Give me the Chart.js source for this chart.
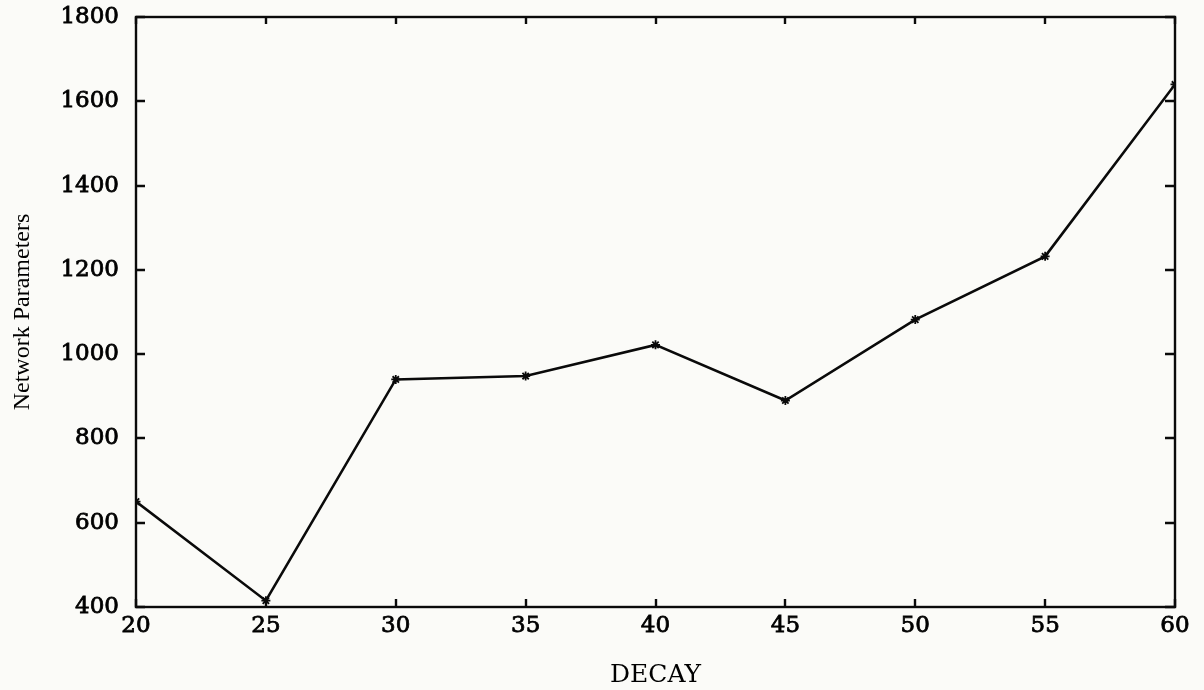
<!DOCTYPE html>
<html>
<head>
<meta charset="utf-8">
<title>Network Parameters vs DECAY</title>
<script src="https://cdn.jsdelivr.net/npm/chart.js@4.4.1/dist/chart.umd.min.js"></script>
<style>
  html, body { margin: 0; padding: 0; background: #fbfbf8; }
  #wrap { width: 1204px; height: 690px; }
</style>
</head>
<body>
<div id="wrap"><canvas id="c" width="1204" height="690"></canvas></div>
<script>
// Decay settings and the resulting network parameter counts
const decay = [20, 25, 30, 35, 40, 45, 50, 55, 60];
const networkParams = [650, 415, 940, 948, 1022, 890, 1082, 1232, 1640];

const xTicks = [20, 25, 30, 35, 40, 45, 50, 55, 60];
const yTicks = [400, 600, 800, 1000, 1200, 1400, 1600, 1800];

const points = decay.map((d, i) => ({ x: d, y: networkParams[i] }));

// Boxed frame with short tick marks pointing into the plot on all four sides
const boxFrame = {
  id: 'boxFrame',
  beforeDraw(chart) {
    const ctx = chart.ctx;
    ctx.save();
    ctx.fillStyle = '#fbfbf8';
    ctx.fillRect(0, 0, chart.width, chart.height);
    ctx.restore();
  },
  afterDatasetsDraw(chart) {
    const { ctx, chartArea: a, scales } = chart;
    ctx.save();
    ctx.strokeStyle = '#0a0a0a';
    ctx.lineWidth = 2.4;
    ctx.strokeRect(a.left, a.top, a.right - a.left, a.bottom - a.top);
    ctx.beginPath();
    xTicks.forEach(v => {
      const px = Math.round(scales.x.getPixelForValue(v));
      ctx.moveTo(px, a.bottom); ctx.lineTo(px, a.bottom - 8);
      ctx.moveTo(px, a.top); ctx.lineTo(px, a.top + 7);
    });
    yTicks.forEach(v => {
      const py = Math.round(scales.y.getPixelForValue(v));
      ctx.moveTo(a.left, py); ctx.lineTo(a.left + 9, py);
      ctx.moveTo(a.right, py); ctx.lineTo(a.right - 10, py);
    });
    ctx.stroke();
    ctx.restore();
  }
};

const tickFont = { family: 'DejaVu Serif', size: 23 };

new Chart(document.getElementById('c'), {
  type: 'line',
  data: {
    datasets: [{
      data: points,
      borderColor: '#0a0a0a',
      borderWidth: 2.6,
      pointStyle: 'star',
      pointRadius: 4.5,
      pointBorderWidth: 1.8,
      pointBorderColor: '#0a0a0a',
      pointBackgroundColor: '#0a0a0a',
      tension: 0,
      fill: false
    }]
  },
  options: {
    responsive: false,
    animation: false,
    layout: { padding: { top: 17, right: 29, left: 0, bottom: 0 } },
    plugins: { legend: { display: false }, tooltip: { enabled: false } },
    scales: {
      x: {
        type: 'linear',
        min: 20, max: 60,
        afterBuildTicks(scale) { scale.ticks = xTicks.map(v => ({ value: v })); },
        afterFit(scale) { scale.height = 83; scale.paddingLeft = 0; scale.paddingRight = 0; },
        grid: { display: false, drawTicks: false },
        border: { display: false },
        ticks: {
          color: '#000',
          padding: 5,
          maxRotation: 0,
          textStrokeColor: '#000',
          textStrokeWidth: 0.8,
          callback: v => String(v),
          font: tickFont
        },
        title: {
          display: true,
          text: 'DECAY',
          color: '#000',
          padding: { top: 0, bottom: 0 },
          font: { family: 'DejaVu Serif', size: 25 }
        }
      },
      y: {
        type: 'linear',
        min: 400, max: 1800,
        afterBuildTicks(scale) { scale.ticks = yTicks.map(v => ({ value: v })); },
        afterFit(scale) { scale.width = 136; scale.paddingTop = 0; scale.paddingBottom = 0; },
        grid: { display: false, drawTicks: false },
        border: { display: false },
        ticks: {
          color: '#000',
          padding: 17,
          textStrokeColor: '#000',
          textStrokeWidth: 0.8,
          callback: v => String(v),
          font: tickFont
        },
        title: {
          display: true,
          text: 'Network Parameters',
          color: '#000',
          padding: { top: 8, bottom: 0 },
          font: { family: 'Liberation Serif', size: 24 }
        }
      }
    }
  },
  plugins: [boxFrame]
});
</script>
</body>
</html>
